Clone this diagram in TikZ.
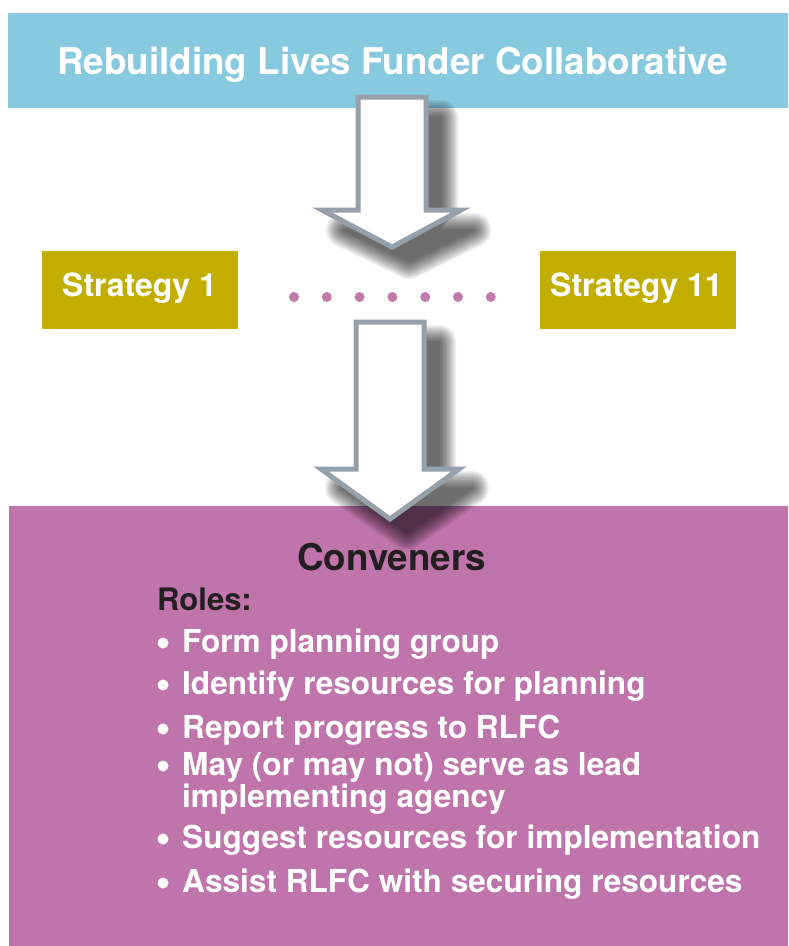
\documentclass[tikz,border=0pt]{standalone}
\usepackage{fontspec}
\setmainfont{TeX Gyre Heros}
\begin{document}
\begin{tikzpicture}[x=1pt,y=-1pt,
  band/.style={draw=none,inner sep=0pt,outer sep=0pt},
  boxtext/.style={inner sep=0pt,anchor=base west,font=\bfseries\fontsize{31.6}{31.6}\selectfont},
  whitetext/.style={boxtext,text=white},
  darktext/.style={boxtext,text=inkdark},
  blockarrow/.style={fill=white,draw=arrowgray,line width=5pt,line join=miter},
  dotmark/.style={circle,fill=dotpink,minimum size=10pt,inner sep=0pt}]
\definecolor{headblue}{HTML}{87CAE0}
\definecolor{olive}{HTML}{C1AE00}
\definecolor{plum}{HTML}{BF75AB}
\definecolor{dotpink}{HTML}{C17AAE}
\definecolor{arrowgray}{HTML}{95A0AA}
\definecolor{inkdark}{HTML}{231F20}
\useasboundingbox (0,0) rectangle (788,946);
\fill[white] (0,0) rectangle (788,946);

% coloured bands
\fill[headblue] (8,13) rectangle (788,108);
\fill[plum] (9,506) rectangle (788,946);
\fill[olive] (42,251) rectangle (238,329);
\fill[olive] (540,251) rectangle (736,329);

\node (head) at (396,60) [band] {};
\node[whitetext,font=\bfseries\fontsize{36.8}{36.8}\selectfont] (title) at (57,74) {Rebuilding Lives Funder Collaborative};
\node[whitetext,font=\bfseries\fontsize{32}{32}\selectfont] (s1) at (62,296) {Strategy 1};
\node[whitetext,font=\bfseries\fontsize{32}{32}\selectfont] (s11) at (550,296) {Strategy 11};

% row of dots between the strategies
\foreach \i in {0,...,6}
  \node[dotmark] (dot\i) at (294+32.8*\i,297) {};

% soft shadows behind the block arrows, built from widening translucent layers
\foreach \w in {1,4,...,34} {
  \begin{scope}[transparency group,opacity=0.068,shift={(17,17)}]
    \filldraw[black,line width=\w pt,line join=round]
      (360,100) -- (424,100) -- (424,213) -- (457,213) -- (392,245) -- (326,213) -- (360,213) -- cycle;
    \filldraw[black,line width=\w pt,line join=round]
      (358,325) -- (422,325) -- (422,471) -- (455,471) -- (390,516) -- (325,471) -- (358,471) -- cycle;
  \end{scope}
}

% block arrows
\draw[blockarrow] (358,97) -- (426,97) -- (426,210) -- (461,210) -- (392,247) -- (322,210) -- (358,210) -- cycle;
\draw[blockarrow] (356,322) -- (424,322) -- (424,469) -- (459,469) -- (390,519) -- (321,469) -- (356,469) -- cycle;

% conveners panel text
\node[darktext,font=\bfseries\fontsize{36.8}{36.8}\selectfont] (conv) at (297,570) {Conveners};
\node[darktext,font=\bfseries\fontsize{31}{31}\selectfont] (roles) at (157,610) {Roles:};
\foreach \nm/\yy/\txt in {r1/652/Form planning group,
                         r2/694/Identify resources for planning,
                         r3/738/Report progress to RLFC,
                         r4/775/May (or may not) serve as lead,
                         r6/848/Suggest resources for implementation,
                         r7/892/Assist RLFC with securing resources} {
  \fill[white] (163,\yy-9) circle (5.5);
  \node[whitetext] (\nm) at (182,\yy) {\txt};
}
\node[whitetext] (r5) at (182,807) {implementing agency};
\end{tikzpicture}
\end{document}
